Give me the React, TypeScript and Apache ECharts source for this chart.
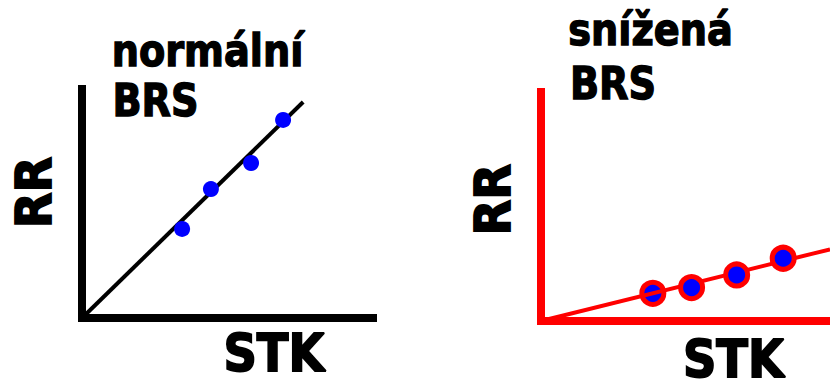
import React, { useEffect, useRef } from "react";
import * as echarts from "echarts";

// Left panel: normal baroreflex sensitivity (steep slope)
const normalSTK = [3.44, 4.43, 5.81, 6.91];
const normalRR = [3.89, 5.63, 6.77, 8.65];
const normalFitSTK = [0, 7.6];
const normalFitRR = [0, 9.43];

// Right panel: reduced baroreflex sensitivity (flat slope)
const reducedSTK = [3.87, 5.21, 6.77, 8.38];
const reducedRR = [1.21, 1.46, 2.01, 2.74];
const reducedFitSTK = [0, 10];
const reducedFitRR = [0, 3.13];

const axisMin = 0;
const axisMax = 10;

const titleNormal = ["normální", "BRS"];
const titleReduced = ["snížená", "BRS"];
const xName = "STK";
const yName = "RR";

const BLACK = "#000000";
const RED = "#ff0000";
const BLUE = "#0000ff";
const FONT = "DejaVu Sans";

const pts = (xs: number[], ys: number[]) => xs.map((x, i) => [x, ys[i]]);

function axis(gridIndex: number, color: string) {
  return {
    type: "value",
    gridIndex,
    min: axisMin,
    max: axisMax,
    axisLine: { show: true, onZero: false, lineStyle: { color, width: 8, cap: "square" } },
    axisTick: { show: false },
    axisLabel: { show: false },
    splitLine: { show: false },
  };
}

function txt(
  text: string,
  x: number,
  y: number,
  size: number,
  sx: number,
  rot = 0,
  lh?: number,
  sw = 1.4
) {
  return {
    type: "text",
    x,
    y,
    rotation: rot,
    scaleX: sx,
    z: 100,
    style: {
      text,
      fill: BLACK,
      stroke: BLACK,
      lineWidth: sw,
      font: `bold ${size}px "${FONT}"`,
      align: "center",
      verticalAlign: "middle",
      ...(lh ? { lineHeight: lh } : {}),
    },
  };
}

export default function App() {
  const ref = useRef<HTMLDivElement>(null);
  useEffect(() => {
    document.body.style.margin = "0";
    const chart = echarts.init(ref.current!, undefined, { renderer: "svg" });
    const normalPts = pts(normalSTK, normalRR);
    const reducedPts = pts(reducedSTK, reducedRR);
    chart.setOption({
      animation: false,
      backgroundColor: "#ffffff",
      grid: [
        { left: 82, top: 89, width: 291, height: 229 },
        { left: 541, top: 92, width: 289, height: 229 },
      ],
      xAxis: [axis(0, BLACK), axis(1, RED)],
      yAxis: [axis(0, BLACK), axis(1, RED)],
      series: [
        {
          type: "line",
          xAxisIndex: 0,
          yAxisIndex: 0,
          z: 3,
          data: pts(normalFitSTK, normalFitRR),
          symbol: "none",
          lineStyle: { color: BLACK, width: 4 },
          silent: true,
        },
        {
          type: "scatter",
          xAxisIndex: 0,
          yAxisIndex: 0,
          z: 5,
          data: normalPts,
          symbolSize: 16,
          itemStyle: { color: BLUE, opacity: 1 },
          silent: true,
        },
        {
          type: "scatter",
          xAxisIndex: 1,
          yAxisIndex: 1,
          z: 2,
          data: reducedPts.slice(0, 1),
          symbolSize: 22,
          itemStyle: { color: BLUE, borderColor: RED, borderWidth: 5, opacity: 1 },
          silent: true,
        },
        {
          type: "line",
          xAxisIndex: 1,
          yAxisIndex: 1,
          z: 3,
          data: pts(reducedFitSTK, reducedFitRR),
          symbol: "none",
          lineStyle: { color: RED, width: 4 },
          silent: true,
        },
        {
          type: "scatter",
          xAxisIndex: 1,
          yAxisIndex: 1,
          z: 5,
          data: reducedPts.slice(1),
          symbolSize: 22,
          itemStyle: { color: BLUE, borderColor: RED, borderWidth: 5, opacity: 1 },
          silent: true,
        },
      ],
      graphic: [
        txt(titleNormal[0], 207.5, 51.5, 44, 0.87),
        txt(titleNormal[1], 155.5, 101.5, 44, 0.87),
        txt(titleReduced[0], 650.5, 29.8, 44, 0.87),
        txt(titleReduced[1], 613, 83.8, 44, 0.87),
        txt(xName, 273.9, 353.5, 51, 0.91, 0, 38, 1.8),
        txt(xName, 733.4, 359.5, 51, 0.91, 0, 38, 1.8),
        txt(yName, 34.2, 192.5, 49, 0.95, Math.PI / 2, undefined, 1.8),
        txt(yName, 492.7, 199.7, 49, 0.95, Math.PI / 2, undefined, 1.8),
      ],
    });
    return () => chart.dispose();
  }, []);
  return <div ref={ref} style={{ width: 830, height: 379 }} />;
}
